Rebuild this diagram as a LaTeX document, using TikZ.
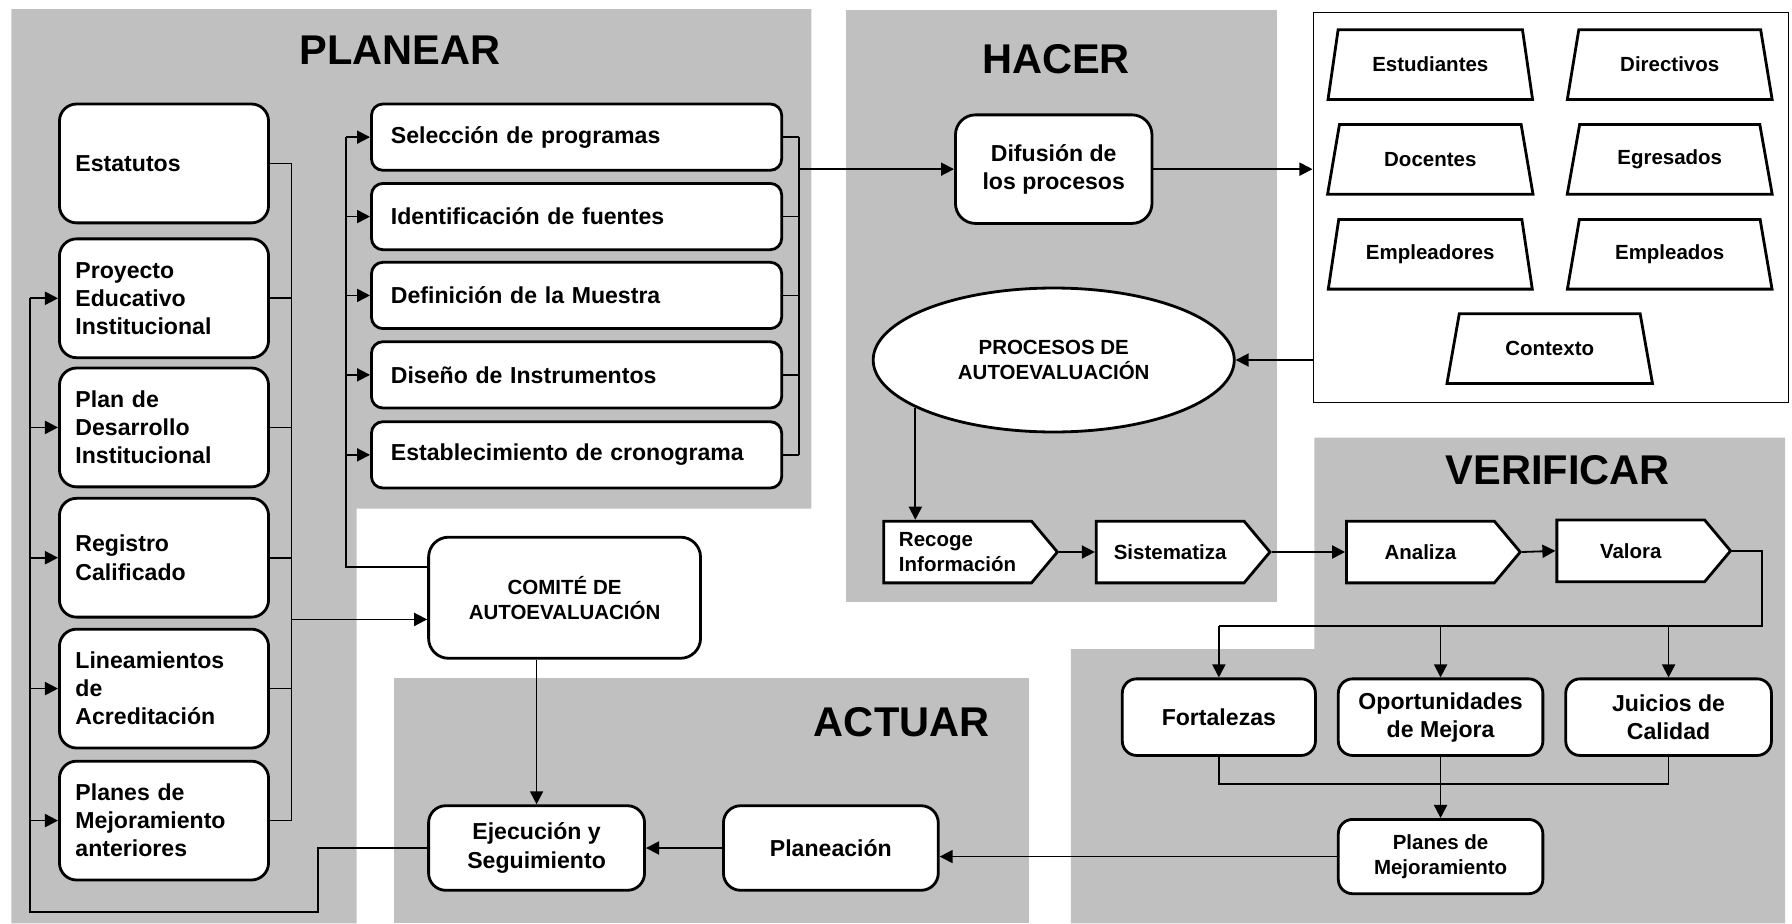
\documentclass[tikz,border=0pt]{standalone}
\usepackage{fontspec}
\setmainfont{Liberation Sans}
\usetikzlibrary{shapes.geometric, shapes.symbols, arrows.meta, positioning, calc}
\definecolor{FondoGris}{RGB}{192, 192, 192}
\definecolor{Negro}{RGB}{0, 0, 0}

\begin{document}
\begin{tikzpicture}[
    x=0.02cm, y=-0.02cm,
    >={Triangle[length=6.5pt, width=6.5pt]},
    % Define styles for the elements
    fase/.style={fill=FondoGris},
    titulo fase/.style={font=\fontsize{20.7}{24}\selectfont\bfseries},
    texto grande/.style={font=\fontsize{11.5}{14}\selectfont\bfseries},
    texto chico/.style={font=\fontsize{10.2}{12.3}\selectfont\bfseries},
    caja/.style={
        rectangle,
        rounded corners=#1,
        draw=Negro,             % borde negro grueso
        fill=white,
        line width=1.4pt,
        align=center
    },
    caja/.default=0.3cm,
    documento/.style={
        caja=0.3cm,
        texto grande,
        minimum width=3.66cm,
        minimum height=2.08cm,
        text width=3.1cm,
        inner xsep=0.28cm,
        align=left
    },
    tarea/.style={
        caja=0.2cm,
        texto grande,
        minimum width=7.18cm,
        minimum height=1.16cm,
        text width=6.5cm,
        inner xsep=0.34cm,
        align=left
    },
    actor/.style={
        trapezium,
        trapezium left angle=76,
        trapezium right angle=76,
        trapezium stretches=true,
        draw=Negro,
        fill=white,
        line width=1.4pt,
        texto chico,
        minimum width=3.6cm,
        minimum height=1.22cm
    },
    paso/.style={
        signal,
        signal to=east,
        signal pointer angle=100,
        draw=Negro,
        fill=white,
        line width=1.4pt,
        texto chico,
        align=left,
        anchor=west,
        minimum width=3.04cm,
        minimum height=1.08cm
    },
    linea/.style={line width=0.9pt, draw=Negro},
    flecha/.style={linea, ->}
]
    \useasboundingbox (0,0) rectangle (1568,808);

    % --- Zonas de fondo ---
    \fill[fase] (10,8) -- (710,8) -- (710,445) -- (312,445) -- (312,808) -- (10,808) -- cycle;
    \fill[fase] (740,9) rectangle (1117,527);
    \fill[fase] (1150,383) -- (1562,383) -- (1562,808) -- (937,808) -- (937,568) -- (1150,568) -- cycle;
    \fill[fase] (345,593) rectangle (900,808);

    % Titulos de las fases
    \node[titulo fase] (tPlanear) at (350,44) {PLANEAR};
    \node[titulo fase] (tHacer) at (924,52) {HACER};
    \node[titulo fase] (tVerificar) at (1363,411) {VERIFICAR};
    \node[titulo fase] (tActuar) at (789,632) {ACTUAR};

    % --- PLANEAR: documentos de referencia ---
    \node[documento] (estatutos) at (143.5,143) {Estatutos};
    \node[documento] (pei) at (143.5,261) {Proyecto\\Educativo\\Institucional};
    \node[documento] (pdi) at (143.5,374) {Plan de\\Desarrollo\\Institucional};
    \node[documento] (registro) at (143.5,488) {Registro\\Calificado};
    \node[documento] (lineamientos) at (143.5,602.5) {Lineamientos\\de\\Acreditación};
    \node[documento] (planesAnt) at (143.5,718) {Planes de\\Mejoramiento\\anteriores};

    % --- PLANEAR: tareas ---
    \node[tarea] (seleccion) at (504.5,120) {Selección de programas};
    \node[tarea] (identificacion) at (504.5,189.5) {Identificación de fuentes};
    \node[tarea] (definicion) at (504.5,258.5) {Definición de la Muestra};
    \node[tarea] (diseno) at (504.5,328) {Diseño de Instrumentos};
    \node[tarea] (cronograma) at (504.5,398) {Establecimiento de cronograma};

    % Comite
    \node[caja=0.35cm, texto chico, minimum width=4.76cm, minimum height=2.12cm] (comite) at (494,523) {COMITÉ DE\\AUTOEVALUACIÓN};

    % --- HACER ---
    \node[caja=0.35cm, texto grande, minimum width=3.44cm, minimum height=1.9cm] (difusion) at (922,148) {Difusión de\\los procesos};
    \node[ellipse, draw=Negro, fill=white, line width=1.4pt, texto chico, align=center,
        minimum width=6.32cm, minimum height=2.52cm] (procesos) at (922,315) {PROCESOS DE\\AUTOEVALUACIÓN};
    \node[paso] (recoge) at (772,483) {Recoge\\Información};
    \node[paso] (sistematiza) at (958,483) {Sistematiza};

    % Actores
    \node[draw=Negro, line width=0.7pt, fill=white, minimum width=8.32cm, minimum height=6.82cm] (actores) at (1357,181.5) {};
    \node[actor] (estudiantes) at (1251.5,56.5) {Estudiantes};
    \node[actor] (directivos) at (1461,56.5) {Directivos};
    \node[actor] (docentes) at (1251.5,139.5) {Docentes};
    \node[actor] (egresados) at (1461,139.5) {Egresados};
    \node[actor] (empleadores) at (1251.5,222.5) {Empleadores};
    \node[actor] (empleados) at (1461,222.5) {Empleados};
    \node[actor] (contexto) at (1356,305) {Contexto};

    % --- VERIFICAR ---
    \node[paso] (analiza) at (1177,483) {Analiza};
    \node[paso] (valora) at (1361,482) {Valora};
    \node[caja=0.25cm, texto grande, minimum width=3.38cm, minimum height=1.34cm] (fortalezas) at (1066.5,627.5) {Fortalezas};
    \node[caja=0.25cm, texto grande, minimum width=3.58cm, minimum height=1.34cm] (oportunidades) at (1260.5,627.5) {Oportunidades\\de Mejora};
    \node[caja=0.25cm, texto grande, minimum width=3.6cm, minimum height=1.34cm] (juicios) at (1460,627.5) {Juicios de\\Calidad};
    \node[caja=0.25cm, texto chico, minimum width=3.58cm, minimum height=1.3cm] (planesMej) at (1260.5,749.5) {Planes de\\Mejoramiento};

    % --- ACTUAR ---
    \node[caja=0.3cm, texto grande, minimum width=3.76cm, minimum height=1.48cm] (planeacion) at (727,742) {Planeación};
    \node[caja=0.3cm, texto grande, minimum width=3.78cm, minimum height=1.48cm] (ejecucion) at (469.5,742) {Ejecución y\\Seguimiento};

    % --- Conexiones ---
    % Documentos hacia el comite
    \coordinate (colDer) at (255,146);
    \foreach \doc in {estatutos,pei,pdi,registro,lineamientos,planesAnt}
        \draw[linea] (\doc.east) -- (\doc.east -| colDer);
    \draw[linea] (estatutos.east -| colDer) -- (planesAnt.east -| colDer);
    \coordinate (entComite) at ($(comite.west)+(0,19)$);
    \draw[flecha] (entComite -| colDer) -- (entComite);

    % Comite hacia las tareas
    \coordinate (salComite) at ($(comite.west)+(0,-27)$);
    \coordinate (colMed) at (303,120);
    \draw[linea] (salComite) -- (salComite -| colMed) -- (seleccion.west -| colMed);
    \foreach \tar in {seleccion,identificacion,definicion,diseno,cronograma}
        \draw[flecha] (\tar.west -| colMed) -- (\tar.west);

    % Tareas hacia la difusion
    \coordinate (colDif) at (699,148);
    \foreach \tar in {seleccion,identificacion,definicion,diseno,cronograma}
        \draw[linea] (\tar.east) -- (\tar.east -| colDif);
    \draw[linea] (seleccion.east -| colDif) -- (cronograma.east -| colDif);
    \draw[flecha] (colDif) -- (difusion.west);
    \draw[flecha] (difusion.east) -- (difusion.east -| actores.west);

    % Hacer
    \draw[flecha] (actores.west |- procesos.east) -- (procesos.east);
    \draw[flecha] (procesos.199) -- (procesos.199 |- recoge.north);
    \draw[flecha] (recoge.east) -- (sistematiza.west);
    \draw[flecha] (sistematiza.east) -- (analiza.west);
    \draw[flecha] (analiza.east) -- (valora.west);

    % Verificar
    \coordinate (bajadaV) at (1542,548);
    \draw[linea] (valora.east) -- (valora.east -| bajadaV) -- (bajadaV) -- (bajadaV -| fortalezas.north);
    \foreach \res in {fortalezas,oportunidades,juicios}
        \draw[flecha] (bajadaV -| \res.north) -- (\res.north);
    \coordinate (union) at (1260,686);
    \draw[linea] (fortalezas.south) -- (fortalezas.south |- union) -- (juicios.south |- union) -- (juicios.south);
    \draw[flecha] (oportunidades.south) -- (planesMej.north);

    % Actuar
    \draw[flecha] (planesMej.west) -- (planesMej.west -| planeacion.east);
    \draw[flecha] (planeacion.west) -- (ejecucion.east);
    \draw[flecha] (comite.south -| ejecucion.north) -- (ejecucion.north);

    % Retorno a los documentos
    \coordinate (codo) at (278,798);
    \coordinate (colIzq) at (26,798);
    \draw[linea] (ejecucion.west) -- (ejecucion.west -| codo) -- (codo) -- (colIzq) -- (pei.west -| colIzq);
    \foreach \doc in {pei,pdi,registro,lineamientos,planesAnt}
        \draw[flecha] (\doc.west -| colIzq) -- (\doc.west);

\end{tikzpicture}
\end{document}
